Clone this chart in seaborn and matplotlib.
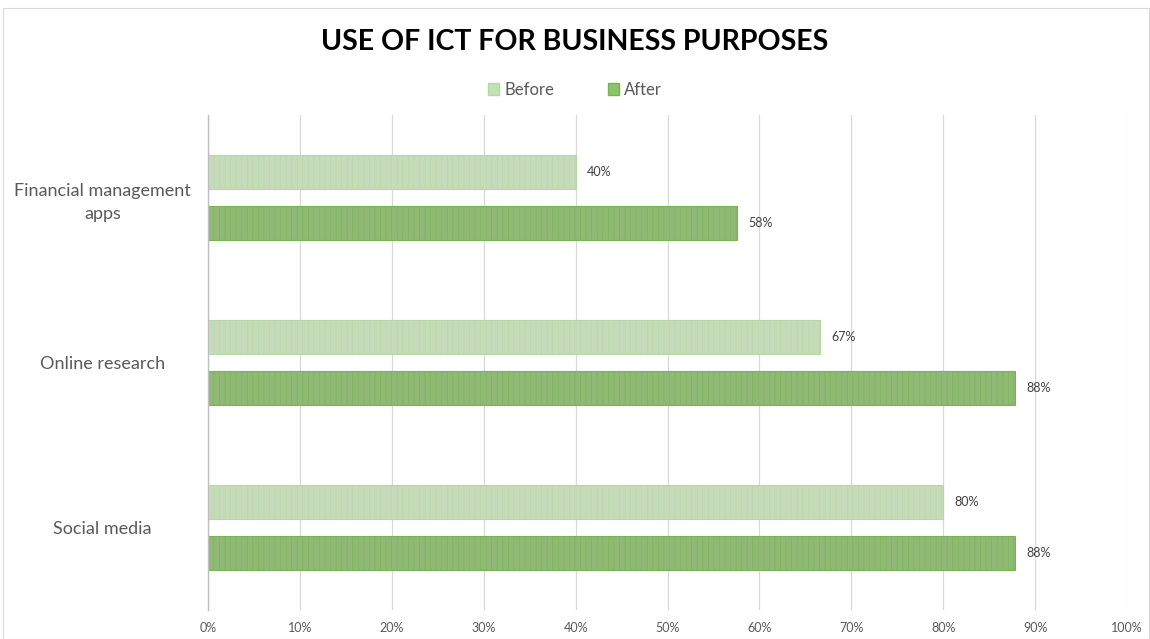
import matplotlib
matplotlib.use("Agg")
import matplotlib.pyplot as plt
import seaborn as sns
import pandas as pd
from matplotlib.patches import Patch, Rectangle

categories = ["Financial management\napps", "Online research", "Social media"]
before = [40.0, 66.6, 80.0]
after = [57.6, 87.8, 87.8]
series = ["Before", "After"]
xticks = [0, 10, 20, 30, 40, 50, 60, 70, 80, 90, 100]

colors = {"Before": "#c5e0b4", "After": "#8cc46a"}
edges = {"Before": "#b5d9a0", "After": "#78b452"}

df = pd.DataFrame({
    "category": categories * 2,
    "value": before + after,
    "series": ["Before"] * 3 + ["After"] * 3,
})

sns.set_theme(style="white")
plt.rcParams["font.family"] = ["Lato", "DejaVu Sans"]
plt.rcParams["hatch.linewidth"] = 0.4

fig = plt.figure(figsize=(11.5, 6.39), dpi=100)
ax = fig.add_axes([0.1809, 0.0454, 0.7991, 0.7746])

sns.barplot(data=df, y="category", x="value", hue="series", hue_order=series,
            order=categories, palette=colors, orient="h", width=0.618, gap=0.333,
            legend=False, ax=ax)

for container, s in zip(ax.containers, series):
    for bar in container:
        bar.set_edgecolor(edges[s])
        bar.set_linewidth(0.8)
        bar.set_hatch("|||")
    ax.bar_label(container, labels=[f"{v:.0f}%" for v in container.datavalues],
                 padding=8, fontsize=9, color="#404040")

ax.set_xlim(0, 100)
ax.set_ylim(2.5, -0.5)
ax.set_xticks(xticks)
ax.set_xticklabels([f"{t}%" for t in xticks], fontsize=9, color="#595959")
ax.tick_params(axis="x", length=0, pad=9)
ax.tick_params(axis="y", labelsize=13, labelcolor="#595959", length=0, pad=76)
for lab in ax.get_yticklabels():
    lab.set_horizontalalignment("center")
    lab.set_multialignment("center")
    lab.set_linespacing(1.5)
ax.set_xlabel("")
ax.set_ylabel("")
ax.grid(axis="x", color="#d9d9d9", linewidth=0.9)
ax.set_axisbelow(True)
for side in ["top", "right", "bottom"]:
    ax.spines[side].set_visible(False)
ax.spines["left"].set_color("#bfbfbf")
ax.spines["left"].set_linewidth(1.0)

fig.text(0.5, 0.934, "USE OF ICT FOR BUSINESS PURPOSES", ha="center", va="center",
         fontsize=20.5, fontweight="bold", color="#000000")

handles = [Patch(facecolor=colors[s], edgecolor=edges[s], label=s) for s in series]
fig.legend(handles=handles, loc="center", bbox_to_anchor=(0.5, 0.859), ncol=2,
           frameon=False, fontsize=12, handlelength=0.7, handleheight=0.7,
           handletextpad=0.3, columnspacing=3.2, labelcolor="#595959")

fig.patches.append(Rectangle((0.003, 0.0), 0.996, 0.987, transform=fig.transFigure,
                             fill=False, edgecolor="#d9d9d9", linewidth=0.8))

fig.savefig("out.png", dpi=100)
